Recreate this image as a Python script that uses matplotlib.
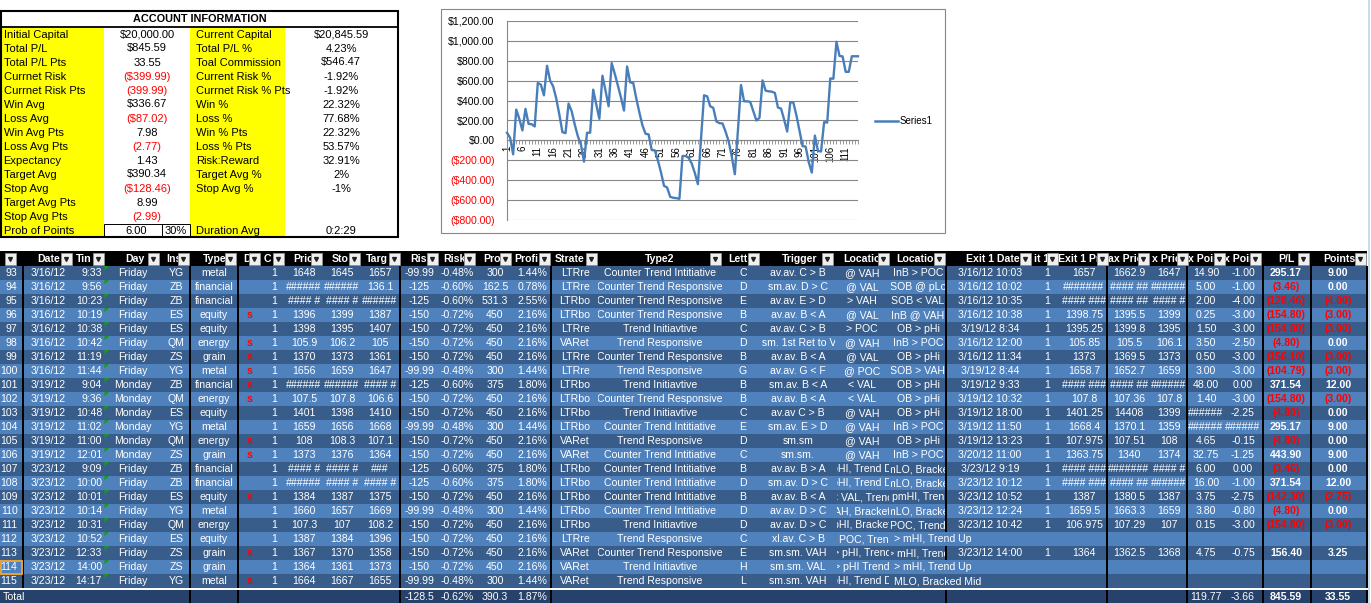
import matplotlib.pyplot as plt
from matplotlib.patches import Rectangle, Polygon
from matplotlib.transforms import Bbox

plt.rcParams['font.family'] = ['Liberation Sans', 'DejaVu Sans']

# ---------------- account information ----------------
acc_labels_left = ["Initial Capital", "Total P/L", "Total P/L Pts", "Currnet Risk", "Currnet Risk Pts",
                   "Win Avg", "Loss Avg", "Win Avg Pts", "Loss Avg Pts", "Expectancy", "Target Avg",
                   "Stop Avg", "Target Avg Pts", "Stop Avg Pts", "Prob of Points"]
acc_values_left = ["$20,000.00", "$845.59", "33.55", "($399.99)", "(399.99)", "$336.67", "($87.02)",
                   "7.98", "(2.77)", "1.43", "$390.34", "($128.46)", "8.99", "(2.99)", "6.00"]
acc_labels_right = ["Current Capital", "Total P/L %", "Toal Commission", "Current Risk %",
                    "Currnet Risk % Pts", "Win %", "Loss %", "Win % Pts", "Loss % Pts", "Risk:Reward",
                    "Target Avg %", "Stop Avg %", "", "", "Duration Avg"]
acc_values_right = ["$20,845.59", "4.23%", "$546.47", "-1.92%", "-1.92%", "22.32%", "77.68%", "22.32%",
                    "53.57%", "32.91%", "2%", "-1%", "", "", "0:2:29"]
prob_pct = "30%"

# ---------------- equity curve (Series1) ----------------
trade_no_all = list(range(1, 116))
cum_pl = [77, 27, -140, 310, 217, 100, 317, 167, 163, 140,
          577, 560, 453, 750, 600, 543, 420, 260, 83, 73,
          370, 293, 160, 43, -40, -213, 77, 77, 510, 360,
          217, 650, 500, 343, 777, 670, 553, 433, 300, 743,
          583, 577, 420, 280, 150, 67, 60, -97, -100, -200,
          -320, -457, -473, -567, -577, -580, -587, -157, -157, -175,
          -233, -327, -440, 10, 453, 443, 343, 327, 190, 173,
          170, 87, -10, -163, -340, 100, 557, 393, 393, 387,
          293, 200, 227, 603, 500, 493, 490, 477, 330, 320,
          210, 88.84, 384.01, 380.55, 252.09, 97.29, -57.51, -62.31, -218.41, -323.20,
          48.34, -106.46, -111.26, 183.91, 179.11, 623.01, 619.55, 991.09, 848.79, 843.99,
          689.19, 689.19, 845.59, 845.59, 845.59]
xtick_vals = [1, 6, 11, 16, 21, 26, 31, 36, 41, 46, 51, 56, 61, 66, 71, 76, 81, 86, 91, 96, 101, 106, 111]
ytick_vals = [-800, -600, -400, -200, 0, 200, 400, 600, 800, 1000, 1200]
ytick_text = ["($800.00)", "($600.00)", "($400.00)", "($200.00)", "$0.00", "$200.00", "$400.00",
              "$600.00", "$800.00", "$1,000.00", "$1,200.00"]

# ---------------- trade table ----------------
header_labels = ["", "Date", "Tin", "Day", "Ins", "Type", "D", "C", "Pric", "Sto", "Targ", "Ris", "Risk",
                 "Prof", "Profi", "Strate", "Type2", "Lett", "Trigger", "Locatio", "Location",
                 "Exit 1 Date", "it 1", "Exit 1 Pr", "ax Pric", "x Pric", "x Poir", "x Poir", "P/L", "Points"]
row_no = ["93", "94", "95", "96", "97", "98", "99", "100", "101", "102", "103", "104", "105", "106",
          "107", "108", "109", "110", "111", "112", "113", "114", "115"]
dates = ["3/16/12", "3/16/12", "3/16/12", "3/16/12", "3/16/12", "3/16/12", "3/16/12", "3/16/12",
         "3/19/12", "3/19/12", "3/19/12", "3/19/12", "3/19/12", "3/19/12",
         "3/23/12", "3/23/12", "3/23/12", "3/23/12", "3/23/12", "3/23/12", "3/23/12", "3/23/12", "3/23/12"]
times = ["9:33", "9:56", "10:23", "10:19", "10:38", "10:42", "11:19", "11:44", "9:04", "9:36", "10:48",
         "11:02", "11:00", "12:01", "9:09", "10:00", "10:01", "10:14", "10:31", "10:52", "12:33", "14:00", "14:17"]
days = ["Friday", "Friday", "Friday", "Friday", "Friday", "Friday", "Friday", "Friday",
        "Monday", "Monday", "Monday", "Monday", "Monday", "Monday",
        "Friday", "Friday", "Friday", "Friday", "Friday", "Friday", "Friday", "Friday", "Friday"]
instruments = ["YG", "ZB", "ZB", "ES", "ES", "QM", "ZS", "YG", "ZB", "QM", "ES", "YG", "QM", "ZS",
               "ZB", "ZB", "ES", "YG", "QM", "ES", "ZS", "ZS", "YG"]
types = ["metal", "financial", "financial", "equity", "equity", "energy", "grain", "metal", "financial",
         "energy", "equity", "metal", "energy", "grain", "financial", "financial", "equity", "metal",
         "energy", "equity", "grain", "grain", "metal"]
direction = ["", "", "", "s", "", "s", "s", "s", "s", "s", "", "", "s", "s", "", "", "s", "", "", "",
             "s", "", "s"]
contracts = ["1", "1", "1", "1", "1", "1", "1", "1", "1", "1", "1", "1", "1", "1", "1", "1", "1", "1",
             "1", "1", "1", "1", "1"]
prices = ["1648", "######", "#### #", "1396", "1398", "105.9", "1370", "1656", "######", "107.5", "1401",
          "1659", "108", "1373", "#### #", "######", "1384", "1660", "107.3", "1387", "1367", "1364", "1664"]
stops = ["1645", "######", "#### #", "1399", "1395", "106.2", "1373", "1659", "######", "107.8", "1398",
         "1656", "108.3", "1376", "#### #", "#### #", "1387", "1657", "107", "1384", "1370", "1361", "1667"]
targets = ["1657", "136.1", "######", "1387", "1407", "105", "1361", "1647", "#### #", "106.6", "1410",
           "1668", "107.1", "1364", "###", "#### #", "1375", "1669", "108.2", "1396", "1358", "1373", "1655"]
risk = ["-99.99", "-125", "-125", "-150", "-150", "-150", "-150", "-99.99", "-125", "-150", "-150",
        "-99.99", "-150", "-150", "-125", "-125", "-150", "-99.99", "-150", "-150", "-150", "-150", "-99.99"]
risk_pct = ["-0.48%", "-0.60%", "-0.60%", "-0.72%", "-0.72%", "-0.72%", "-0.72%", "-0.48%", "-0.60%",
            "-0.72%", "-0.72%", "-0.48%", "-0.72%", "-0.72%", "-0.60%", "-0.60%", "-0.72%", "-0.48%",
            "-0.72%", "-0.72%", "-0.72%", "-0.72%", "-0.48%"]
profit = ["300", "162.5", "531.3", "450", "450", "450", "450", "300", "375", "450", "450", "300", "450",
          "450", "375", "375", "450", "300", "450", "450", "450", "450", "300"]
profit_pct = ["1.44%", "0.78%", "2.55%", "2.16%", "2.16%", "2.16%", "2.16%", "1.44%", "1.80%", "2.16%",
              "2.16%", "1.44%", "2.16%", "2.16%", "1.80%", "1.80%", "2.16%", "1.44%", "2.16%", "2.16%",
              "2.16%", "2.16%", "1.44%"]
strategy = ["LTRre", "LTRre", "LTRbo", "LTRbo", "LTRre", "VARet", "LTRre", "LTRre", "LTRbo", "LTRbo",
            "LTRbo", "LTRbo", "VARet", "VARet", "LTRbo", "LTRbo", "LTRbo", "LTRbo", "LTRbo", "LTRre",
            "VARet", "VARet", "VARet"]
type2 = ["Counter Trend Intitiative", "Counter Trend Responsive", "Counter Trend Responsive",
         "Counter Trend Responsive", "Trend Initiavtive", "Trend Responsive", "Counter Trend Responsive",
         "Trend Responsive", "Trend Initiavtive", "Counter Trend Responsive", "Trend Initiavtive",
         "Counter Trend Intitiative", "Trend Responsive", "Counter Trend Intitiative",
         "Counter Trend Intitiative", "Counter Trend Intitiative", "Counter Trend Intitiative",
         "Counter Trend Intitiative", "Trend Initiavtive", "Trend Responsive", "Counter Trend Responsive",
         "Trend Initiavtive", "Trend Responsive"]
letters = ["C", "D", "E", "B", "C", "D", "B", "G", "B", "B", "C", "E", "D", "C", "B", "D", "B", "D", "D",
           "C", "E", "H", "L"]
triggers = ["av.av. C > B", "sm.av. D > C", "av.av. E > D", "av.av. B < A", "av.av. C > B",
            ".sm. 1st Ret to V", "av.av. B < A", "av.av. G < F", "sm.av. B < A", "av.av. B < A",
            "av.av C > B", "sm.av. E > D", "sm.sm", "sm.sm.", "av.av. B > A", "sm.av. D > C",
            "av.av. B < A", "av.av. D > C", "av.av. D > C", "xl.av. C > B", "sm.sm. VAH", "sm.sm. VAL",
            "sm.sm. VAH"]
location1 = ["@ VAH", "@ VAL", "> VAH", "@ VAL", "> POC", "@ VAH", "@ VAL", "@ POC", "< VAL", "< VAL",
             "@ VAH", "@ VAH", "@ VAH", "@ VAH", "pHI, Trend D", "pHI, Trend D", "< VAL, Trenc",
             "AH, Bracket", "pHI, Bracket", "< POC, Trenc", "> pHI, Trend", "> pHI Trend", "pHI, Trend D"]
location2 = ["InB > POC", "SOB @ pLo", "SOB < VAL", "InB @ VAH", "OB > pHi", "InB > POC", "OB > pHi",
             "SOB > VAH", "OB > pHi", "OB > pHi", "OB > pHi", "InB > POC", "OB > pHi", "InB > POC",
             "mLO, Bracke", "mLO, Bracke", "pmHI, Tren", "mLO, Bracke", "POC, Trend", "> mHI, Trend Up",
             "> mHI, Trenc", "> mHI, Trend Up", "MLO, Bracked Mid"]
exit_dates = ["3/16/12 10:03", "3/16/12 10:02", "3/16/12 10:35", "3/16/12 10:38", "3/19/12 8:34",
              "3/16/12 12:00", "3/16/12 11:34", "3/19/12 8:44", "3/19/12 9:33", "3/19/12 10:32",
              "3/19/12 18:00", "3/19/12 11:50", "3/19/12 13:23", "3/20/12 11:00", "3/23/12 9:19",
              "3/23/12 10:12", "3/23/12 10:52", "3/23/12 12:24", "3/23/12 10:42", "", "3/23/12 14:00", "", ""]
exit_qty = ["1", "1", "1", "1", "1", "1", "1", "1", "1", "1", "1", "1", "1", "1", "1", "1", "1", "1",
            "1", "", "1", "", ""]
exit_prices = ["1657", "#######", "#### ###", "1398.75", "1395.25", "105.85", "1373", "1658.7",
               "#### ###", "107.8", "1401.25", "1668.4", "107.975", "1363.75", "#### ###", "#### ###",
               "1387", "1659.5", "106.975", "", "1364", "", ""]
max_prices = ["1662.9", "#### ##", "#### ##", "1395.5", "1399.8", "105.5", "1369.5", "1652.7", "#### ##",
              "107.36", "14408", "1370.1", "107.51", "1340", "#######", "#### ##", "1380.5", "1663.3",
              "107.29", "", "1362.5", "", ""]
min_prices = ["1647", "######", "#### #", "1399", "1395", "106.1", "1373", "1659", "######", "107.8",
              "1399", "1359", "108", "1374", "#### #", "######", "1387", "1659", "107", "", "1368", "", ""]
max_points = ["14.90", "5.00", "2.00", "0.25", "1.50", "3.50", "0.50", "3.00", "48.00", "1.40", "######",
              "######", "4.65", "32.75", "6.00", "16.00", "3.75", "3.80", "0.15", "", "4.75", "", ""]
min_points = ["-1.00", "-1.00", "-4.00", "-3.00", "-3.00", "-2.50", "-3.00", "-3.00", "0.00", "-3.00",
              "-2.25", "######", "-0.15", "-1.25", "0.00", "-1.00", "-2.75", "-0.80", "-3.00", "", "-0.75",
              "", ""]
pl = ["295.17", "(3.46)", "(128.46)", "(154.80)", "(154.80)", "(4.80)", "(156.10)", "(104.79)", "371.54",
      "(154.80)", "(4.80)", "295.17", "(4.80)", "443.90", "(3.46)", "371.54", "(142.30)", "(4.80)",
      "(154.80)", "", "156.40", "", ""]
points = ["9.00", "0.00", "(4.00)", "(3.00)", "(3.00)", "0.00", "(3.00)", "(3.00)", "12.00", "(3.00)",
          "0.00", "9.00", "0.00", "9.00", "0.00", "12.00", "(2.75)", "0.00", "(3.00)", "", "3.25", "", ""]
totals = {11: "-128.5", 12: "-0.62%", 13: "390.3", 14: "1.87%",
          26: "119.77", 27: "-3.66", 28: "845.59", 29: "33.55"}

# ---------------- layout ----------------
W, H = 1371, 603
FS = 7.6
DARK, LIGHT, TOTAL = '#385D8A', '#4F81BD', '#26426A'
GRID = '#868686'

fig = plt.figure(figsize=(W / 100, H / 100), dpi=100)
ax = fig.add_axes([0, 0, 1, 1])
ax.set_xlim(0, W)
ax.set_ylim(H, 0)
ax.axis('off')


def box(x0, y0, x1, y1, fc, ec='none', lw=0.0, z=1):
    ax.add_patch(Rectangle((x0, y0), x1 - x0, y1 - y0, facecolor=fc, edgecolor=ec, linewidth=lw, zorder=z))


def cell_text(x, y, s, x0, x1, ha='center', **kw):
    t = ax.text(x, y, s, ha=ha, va='center', fontsize=kw.pop('fontsize', FS), clip_on=True, zorder=5, **kw)
    (a, b), (c, d) = ax.transData.transform([(x0, y - 7), (x1, y + 7)])
    t.set_clip_path(None)
    t.set_clip_box(Bbox.from_extents(min(a, c), min(b, d), max(a, c), max(b, d)))
    return t


# account information block
box(0, 11, 398, 237, 'white')
box(0, 27, 104, 237, '#FFFF00')
box(190, 27, 285, 237, '#FFFF00')
ax.text(200, 19.5, "ACCOUNT INFORMATION", ha='center', va='center', fontsize=7.8, fontweight='bold', zorder=5)
for i in range(len(acc_labels_left)):
    yc = 34.5 + 14 * i
    ax.text(3.5, yc, acc_labels_left[i], ha='left', va='center', fontsize=8, zorder=5)
    ax.text(196.5, yc, acc_labels_right[i], ha='left', va='center', fontsize=8, zorder=5)
    vx = 136 if i == len(acc_labels_left) - 1 else 147
    col = '#FF0000' if acc_values_left[i].startswith('(') else 'black'
    ax.text(vx, yc, acc_values_left[i], ha='center', va='center', fontsize=8, color=col, zorder=5)
    ax.text(341, yc, acc_values_right[i], ha='center', va='center', fontsize=8, zorder=5)
ax.text(176, 230.5, prob_pct, ha='center', va='center', fontsize=8, zorder=5)
box(104, 223.5, 190, 237, 'none', 'black', 0.7, z=4)
ax.plot([162, 162], [223.5, 237], color='black', lw=0.7, zorder=4)
ax.plot([0, 398], [27, 27], color='black', lw=1.3, zorder=4)
box(0.8, 11, 397.5, 237, 'none', 'black', 1.5, z=4)

# chart frame + legend
box(440.5, 9, 945, 233, 'white', GRID, 0.8)
ax.plot([875, 898], [121, 121], color='#4A7EBB', lw=1.8, zorder=5)
ax.text(900, 121, "Series1", ha='left', va='center', fontsize=7, zorder=5)

# line chart
px_l, px_r, px_t, px_b = 507, 858, 21, 220
cax = fig.add_axes([px_l / W, 1 - px_b / H, (px_r - px_l) / W, (px_b - px_t) / H])
cax.set_facecolor('none')
cax.plot(trade_no_all, cum_pl, color='#4A7EBB', lw=1.7, zorder=3, clip_on=False)
cax.set_xlim(1, 115)
cax.set_ylim(-800, 1200)
cax.set_yticks(ytick_vals, ytick_text)
cax.yaxis.grid(True, color=GRID, lw=0.8)
cax.set_axisbelow(True)
for s in ['top', 'right']:
    cax.spines[s].set_visible(False)
cax.spines['left'].set_color(GRID)
cax.spines['left'].set_linewidth(0.8)
cax.spines['bottom'].set_position(('data', 0))
cax.spines['bottom'].set_color(GRID)
cax.spines['bottom'].set_linewidth(0.8)
cax.set_xticks(xtick_vals, [str(v) for v in xtick_vals])
cax.set_xticks(trade_no_all, minor=True)
cax.tick_params(axis='x', which='both', direction='out', length=3, color=GRID, width=0.6,
                labelsize=7, labelrotation=90, pad=1)
cax.tick_params(axis='y', length=0, labelsize=7.6, pad=9)
for lbl, txt in zip(cax.get_yticklabels(), ytick_text):
    lbl.set_color('#FF0000' if txt.startswith('(') else 'black')

# table columns: x0, x1, text x, alignment, values
cols = [(0, 23, 17.5, 'right', row_no), (23, 72, 48, 'center', dates), (72, 104, 102, 'right', times),
        (104, 162, 133, 'center', days), (162, 190, 176, 'center', instruments),
        (190, 238, 214, 'center', types), (238, 262, 250, 'center', direction),
        (262, 285, 274, 'center', contracts), (285, 322, 304, 'center', prices),
        (322, 360, 342, 'center', stops), (360, 400, 380, 'center', targets),
        (400, 438, 419, 'center', risk), (438, 475, 457, 'center', risk_pct),
        (475, 512, 495, 'center', profit), (512, 551, 532, 'center', profit_pct),
        (551, 597, 575, 'center', strategy), (597, 725, 660, 'center', type2),
        (725, 760, 743, 'center', letters), (760, 836, 798, 'center', triggers),
        (836, 890, 862, 'center', location1), (890, 946, 918, 'center', location2),
        (946, 1033, 990, 'center', exit_dates), (1033, 1057, 1047, 'center', exit_qty),
        (1057, 1107, 1084, 'center', exit_prices), (1107, 1149, 1129, 'center', max_prices),
        (1149, 1187, 1169, 'center', min_prices), (1187, 1224, 1206, 'center', max_points),
        (1224, 1263, 1243, 'center', min_points), (1263, 1311, 1286, 'center', pl),
        (1311, 1367, 1338, 'center', points)]
header_left = [None, 37, 76, 125, 166, 203, 243, 264, 293, 332, 366, 410, 443, 483, 514, 555, 645, 728,
               782, 843, 896, 966, 1034, 1058, 1108, 1152, 1188, 1224, 1278, 1323]
dropdown_left = [5, 61, 93, 148, 178, 225, 249, 273, 311, 349, 389, 427, 464, 500, 539, 586, 710, 748,
                 822, 878, 934, 1020, 1047, 1097, 1138, 1177, 1214, 1250, 1298, 1355]
separators = [23, 190, 238, 400, 551, 946, 1107, 1187, 1263, 1311, 1367]

# header row
HY0, HY1 = 251, 266
box(0, HY0, 1367, HY1, 'black')
for (x0, x1, _, _, _), lab, hl, dl in zip(cols, header_labels, header_left, dropdown_left):
    if lab:
        cell_text(hl, (HY0 + HY1) / 2, lab, x0, dl, ha='left', color='white', fontweight='bold')
    box(dl, 253, dl + 10.5, 264.5, '#EFEFEF', '#9A9A9A', 0.5, z=6)
    ax.plot(dl + 5.25, 258.9, marker='v', markersize=2.8, color='#222222', zorder=7)

# data rows
ROW_H = 14
for r in range(len(row_no)):
    top = HY1 + r * ROW_H
    yc = top + ROW_H / 2
    box(0, top, 1367, top + ROW_H, DARK if r % 2 == 0 else LIGHT)
    overflow = location2[r] in ("> mHI, Trend Up", "MLO, Bracked Mid")
    xs = [x for x in separators if not (overflow and x == 946)]
    ax.vlines(xs, top, top + ROW_H, colors='black', lw=1.4, zorder=3)
    ax.add_patch(Polygon([(104.5, top), (109, top), (104.5, top + 4.5)], closed=True,
                         facecolor='#10A010', edgecolor='none', zorder=4))
    for ci, (x0, x1, tx, ha, vals) in enumerate(cols):
        s = vals[r]
        if not s:
            continue
        kw = dict(color='white')
        if ci == 6:
            kw = dict(color='#FF0000', fontweight='bold')
        elif ci >= 28:
            kw = dict(color='#FF0000' if s.startswith('(') else 'white', fontweight='bold')
        if ci == 20 and overflow:
            cell_text(894, yc, s, 890, 1033, ha='left', **kw)
        else:
            cell_text(tx, yc, s, x0 + 1, x1 - 1, ha=ha, **kw)

# selected cell marker (row 114)
sel_top = HY1 + row_no.index("114") * ROW_H
box(0.6, sel_top + 0.5, 22, sel_top + ROW_H - 0.5, 'none', '#E8A33A', 1.4, z=6)

# total row
tot_top = HY1 + len(row_no) * ROW_H
box(0, tot_top, 1367, tot_top + 2, 'white', z=2)
box(0, tot_top + 2, 1367, tot_top + 16, TOTAL)
ax.vlines(separators[1:], tot_top + 2, tot_top + 16, colors='black', lw=1.4, zorder=3)
tyc = tot_top + 9
ax.text(3, tyc, "Total", ha='left', va='center', fontsize=FS, color='white', zorder=5)
for ci, s in totals.items():
    x0, x1, tx, ha, _ = cols[ci]
    cell_text(tx, tyc, s, x0 + 1, x1 - 1, ha=ha, color='white',
              fontweight='bold' if ci >= 28 else 'normal')

# right edge strip
ax.plot([1368.5, 1368.5], [0, H], color='#C5D3E6', lw=1.2, zorder=2)

fig.savefig("out.png", dpi=100)
